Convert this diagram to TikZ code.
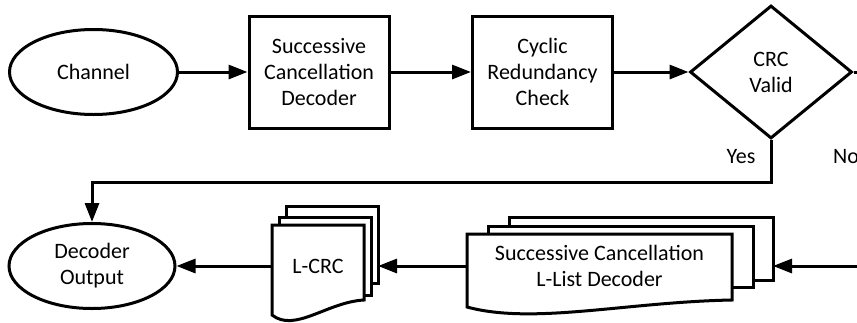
\documentclass[tikz,border=0pt]{standalone}
\usepackage{fontspec}
\setmainfont{Carlito}
\usetikzlibrary{shapes.geometric,arrows.meta,calc}

% one sheet of a stacked document: left x, top y, right x, bottom-left y, bottom-right y
\newcommand\docpage[5]{%
  \path[page] (#1,#2) -- (#3,#2) -- (#3,#5)
    .. controls ({#1+0.6*(#3-#1)},{#5+2}) and ({#1+0.25*(#3-#1)},{#4+18}) .. (#1,#4) -- cycle;}

\begin{document}
\begin{tikzpicture}[x=1pt,y=-1pt,
  every node/.style={font=\fontsize{22}{26}\selectfont, align=center, text=black},
  line/.style={line width=3pt},
  flow/.style={line, -{Triangle[length=19pt,width=14pt]}},
  terminal/.style={ellipse, draw, line width=3pt, fill=white,
    minimum width=168pt, minimum height=85pt, inner sep=0pt},
  process/.style={rectangle, draw, line width=3pt, fill=white,
    minimum width=140pt, minimum height=112pt, inner sep=0pt},
  decision/.style={diamond, draw, line width=3pt, fill=white,
    minimum width=162pt, minimum height=133pt, inner sep=0pt},
  page/.style={draw, line width=3pt, fill=white, line join=miter},
]
\useasboundingbox (0,0) rectangle (857,322);
\clip (0,0) rectangle (857,322);

% top row
\node[terminal] (ch) at (93.5,72) {Channel};
\node[process] (scd) at (319,72) {Successive\\Cancellation\\Decoder};
\node[process] (crc) at (542.5,72) {Cyclic\\Redundancy\\Check};
\node[decision] (valid) at (771,72) {CRC\\Valid};

% bottom row: list decoder stack
\draw[page] (509,217) rectangle (773,280);
\draw[page] (488,226) rectangle (753,287);
\docpage{467}{234}{732}{307}{300}
\node (scl) at (599.5,266) {Successive Cancellation\\L-List Decoder};
\coordinate (sclin) at (773,266);
\coordinate (sclout) at (467,266);

% bottom row: L-CRC stack
\draw[page] (286,206) rectangle (378,283);
\draw[page] (279,217) rectangle (371,295);
\docpage{272}{225}{364}{315}{300}
\node (lcrc) at (318,266) {L-CRC};
\coordinate (lcrcin) at (378,266);
\coordinate (lcrcout) at (272,266);

\node[terminal, minimum width=166pt] (out) at (92,266) {Decoder\\Output};

% branch labels
\node (yes) at (741,157) {Yes};
\node (no) at (846,157) {No};

% connectors
\coordinate (yesturn) at (771,182);
\coordinate (noexit) at (880,72);
\coordinate (retry) at (880,266);
\draw[flow] (ch) -- (scd);
\draw[flow] (scd) -- (crc);
\draw[flow] (crc) -- (valid);
\draw[line] (valid.east) -- (noexit);
\draw[flow] (valid.south) -- (yesturn) -| (out.north);
\draw[flow] (retry) -- (sclin);
\draw[flow] (sclout) -- (lcrcin);
\draw[flow] (lcrcout) -- (out);
\end{tikzpicture}
\end{document}
